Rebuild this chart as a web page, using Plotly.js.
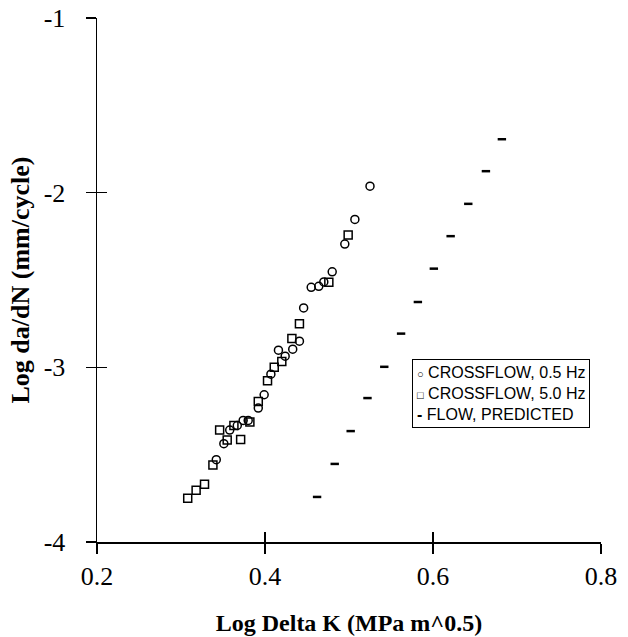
<!DOCTYPE html>
<html>
<head>
<meta charset="utf-8">
<script src="https://cdn.plot.ly/plotly-3.0.1.min.js"></script>
<style>html,body{margin:0;padding:0;background:#fff;}#chart{width:628px;height:637px;}</style>
</head>
<body>
<div id="chart"></div>
<script>
// CROSSFLOW, 0.5 Hz (open circles)
const cf05_x = [0.342,0.351,0.358,0.367,0.374,0.380,0.392,0.399,0.407,0.416,0.424,0.433,0.441,0.446,0.455,0.464,0.470,0.480,0.495,0.507,0.525];
const cf05_y = [-3.529,-3.437,-3.359,-3.333,-3.304,-3.304,-3.233,-3.157,-3.039,-2.902,-2.936,-2.896,-2.850,-2.660,-2.542,-2.536,-2.511,-2.453,-2.294,-2.153,-1.963];
// CROSSFLOW, 5.0 Hz (open squares)
const cf50_x = [0.308,0.318,0.328,0.338,0.346,0.355,0.363,0.371,0.382,0.392,0.403,0.411,0.420,0.432,0.441,0.476,0.499];
const cf50_y = [-3.750,-3.704,-3.670,-3.559,-3.359,-3.416,-3.333,-3.413,-3.313,-3.195,-3.077,-2.999,-2.967,-2.835,-2.751,-2.513,-2.243];
// FLOW, PREDICTED (short dashes)
const pred_x = [0.462,0.483,0.502,0.522,0.542,0.562,0.582,0.601,0.621,0.642,0.663,0.682];
const pred_y = [-3.742,-3.553,-3.365,-3.176,-2.997,-2.807,-2.626,-2.435,-2.249,-2.064,-1.877,-1.694];

const seriesNames = ['CROSSFLOW, 0.5 Hz', 'CROSSFLOW, 5.0 Hz', 'FLOW, PREDICTED'];
const legendGlyphs = ['○', '□', '-'];

const xRange = [0.2, 0.8];
const yRange = [-4, -1];
const xTicks = [0.2, 0.4, 0.6, 0.8];
const yTicks = [-4, -3, -2, -1];
const xTickText = ['0.2', '0.4', '0.6', '0.8'];
const yTickText = ['-4', '-3', '-2', '-1'];

const serif = 'Liberation Serif, Times New Roman, serif';
const sans = 'Liberation Sans, Arial, sans-serif';

const traces = [
  {x: cf05_x, y: cf05_y, mode: 'markers', type: 'scatter', name: seriesNames[0],
   marker: {symbol: 'circle-open', size: 8, color: '#000', line: {width: 1.5, color: '#000'}}},
  {x: cf50_x, y: cf50_y, mode: 'markers', type: 'scatter', name: seriesNames[1],
   marker: {symbol: 'square-open', size: 8, color: '#000', line: {width: 1.5, color: '#000'}}},
  {x: pred_x, y: pred_y, mode: 'markers', type: 'scatter', name: seriesNames[2],
   marker: {symbol: 'line-ew', size: 6, color: '#000', line: {width: 2.5, color: '#000'}}},
  {x: [], y: [], xaxis: 'x2', yaxis: 'y2', mode: 'markers', type: 'scatter', showlegend: false, hoverinfo: 'skip'}
];

const legendText = seriesNames.map((n, i) => {
  const g = i === 2 ? '<b>-</b>' : '<span style="font-size:11px">' + legendGlyphs[i] + '</span>';
  return g + ' ' + n;
}).join('<br>');

const layout = {
  width: 628, height: 637,
  margin: {l: 96.7, r: 26.7, t: 17.5, b: 94.5},
  paper_bgcolor: '#fff', plot_bgcolor: '#fff',
  showlegend: false,
  xaxis: {
    range: xRange, tickvals: xTicks, ticktext: xTickText,
    showgrid: false, zeroline: false, showline: true, linecolor: '#000', linewidth: 1.5,
    ticks: 'outside', ticklen: 10, tickwidth: 1.5, tickcolor: '#000',
    tickfont: {family: serif, size: 26, color: '#000'},
    title: {text: '<b>Log Delta K (MPa m^0.5)</b>', font: {family: serif, size: 24, color: '#000'}, standoff: 24}
  },
  yaxis: {
    range: yRange, tickvals: yTicks, ticktext: yTickText,
    showgrid: false, zeroline: false, showline: true, linecolor: '#000', linewidth: 1.5,
    ticks: 'outside', ticklen: 10, tickwidth: 1.5, tickcolor: '#000',
    ticklabelstandoff: 15,
    tickfont: {family: serif, size: 26, color: '#000'},
    title: {text: '<b>Log da/dN (mm/cycle)</b>', font: {family: serif, size: 26, color: '#000'}, standoff: 6}
  },
  xaxis2: {
    overlaying: 'x', anchor: 'y2', range: xRange, tickvals: xTicks,
    showgrid: false, zeroline: false, showline: false, showticklabels: false,
    ticks: 'inside', ticklen: 10, tickwidth: 1.5, tickcolor: '#000'
  },
  yaxis2: {
    overlaying: 'y', anchor: 'x2', range: yRange, tickvals: yTicks,
    showgrid: false, zeroline: false, showline: false, showticklabels: false,
    ticks: 'inside', ticklen: 10, tickwidth: 1.5, tickcolor: '#000'
  },
  annotations: [{
    xref: 'paper', yref: 'paper', x: 0.6255, y: 0.349, xanchor: 'left', yanchor: 'top',
    text: legendText, showarrow: false, align: 'left',
    font: {family: sans, size: 16, color: '#000'},
    bgcolor: '#fff', bordercolor: '#000', borderwidth: 1, borderpad: 4
  }]
};

Plotly.newPlot('chart', traces, layout, {displayModeBar: false, staticPlot: true});
</script>
</body>
</html>
